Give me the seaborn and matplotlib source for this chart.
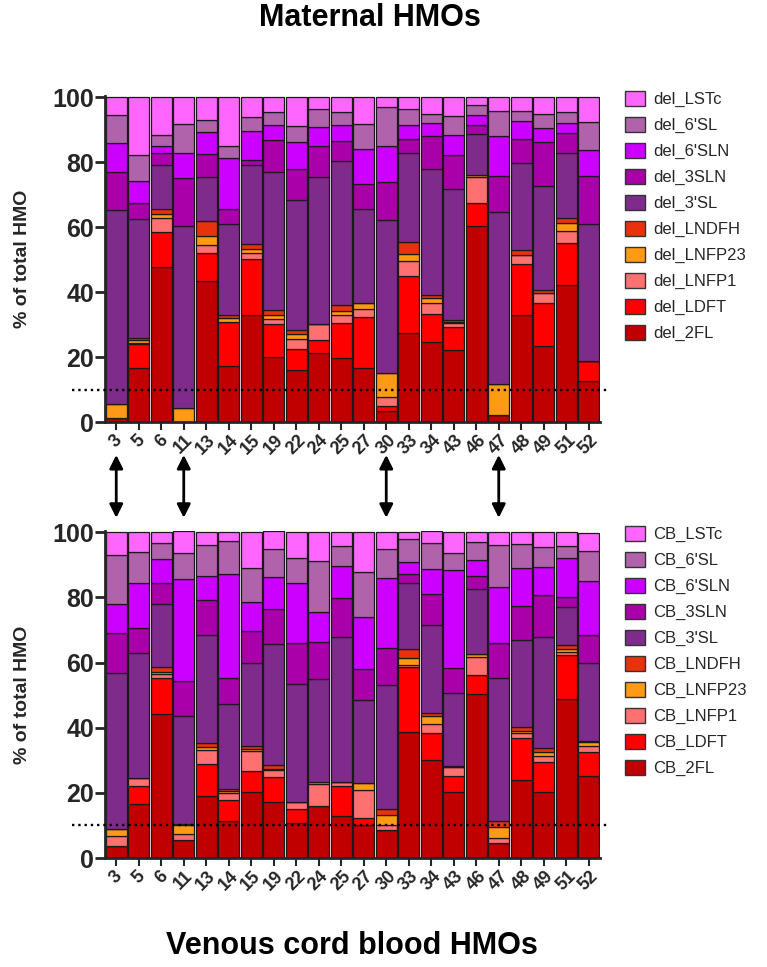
import numpy as np
import pandas as pd
import matplotlib
matplotlib.use('Agg')
import matplotlib.pyplot as plt
from matplotlib.patches import Patch
import seaborn as sns

# sample ids on the x axis
samples = ['3', '5', '6', '11', '13', '14', '15', '19', '22', '24', '25',
           '27', '30', '33', '34', '43', '46', '47', '48', '49', '51', '52']

# stacking order, bottom -> top
components = ['2FL', 'LDFT', 'LNFP1', 'LNFP23', 'LNDFH',
              "3'SL", '3SLN', "6'SLN", "6'SL", 'LSTc']

colors = {
    '2FL': '#C00000',
    'LDFT': '#FF0000',
    'LNFP1': '#FF7070',
    'LNFP23': '#FF9A14',
    'LNDFH': '#E8320C',
    "3'SL": '#7E2B8C',
    '3SLN': '#A900AA',
    "6'SLN": '#CC00FF',
    "6'SL": '#B063AB',
    'LSTc': '#FF66FF',
}

# Maternal (del) values, % of total HMO
del_2FL = [1.3, 16.7, 47.8, 0, 43.4, 17.2, 32.9, 20.0, 15.9, 21.1, 19.6,
           16.7, 3.4, 27.3, 24.6, 22.1, 60.5, 2.1, 33.1, 23.4, 42.2, 12.6]
del_LDFT = [0, 7.2, 10.8, 0, 8.7, 13.7, 17.4, 10.1, 6.5, 4.3, 10.8,
            15.7, 1.5, 17.8, 8.8, 7.2, 7.0, 0, 15.7, 13.3, 13.0, 6.2]
del_LNFP1 = [0, 0.5, 4.3, 0, 2.4, 0, 1.8, 1.5, 3.3, 4.9, 2.4,
             2.5, 2.8, 4.4, 3.3, 1.1, 8.0, 0, 2.5, 2.9, 3.6, 0]
del_LNFP23 = [4.3, 0.8, 1.3, 4.2, 2.7, 1.2, 1.3, 1.2, 1.3, 0, 1.4,
              1.6, 7.5, 2.1, 1.4, 0.3, 0.7, 9.7, 0, 0, 2.5, 0]
del_LNDFH = [0, 0.8, 1.4, 0, 4.6, 0.8, 1.3, 1.7, 1.2, 0, 1.7,
             0, 0, 3.8, 1.0, 0.7, 0, 0, 1.8, 1.2, 1.6, 0]
del_3SL = [59.8, 36.6, 13.7, 56.3, 13.7, 28.2, 24.6, 42.4, 40.3, 45.2, 44.6,
           29.2, 46.9, 27.3, 38.9, 40.5, 12.6, 52.9, 26.7, 32.0, 20.0, 42.3]
del_3SLN = [11.6, 4.7, 3.6, 14.7, 6.9, 4.6, 1.5, 9.8, 9.4, 9.4, 6.0,
            7.6, 11.8, 4.6, 10.2, 10.2, 2.6, 11.2, 7.5, 13.4, 6.1, 14.8]
del_6SLN = [9.0, 6.9, 2.2, 7.7, 6.8, 15.6, 8.7, 4.7, 8.4, 5.9, 4.9,
            10.8, 11.0, 4.3, 3.9, 6.2, 3.3, 12.3, 5.3, 4.4, 3.1, 8.0]
del_6SL = [8.7, 7.9, 3.4, 9.0, 3.9, 3.8, 4.3, 4.1, 5.0, 5.7, 4.0,
           7.7, 12.0, 4.8, 2.9, 5.8, 2.8, 7.7, 3.1, 4.4, 3.3, 8.5]
del_LSTc = [5.3, 17.9, 11.5, 8.1, 6.9, 14.9, 6.2, 4.5, 8.7, 3.5, 4.6,
            8.2, 3.1, 3.6, 5.0, 5.9, 2.5, 4.1, 4.3, 5.0, 4.6, 7.6]

# Venous cord blood (CB) values
cb_2FL = [3.7, 16.6, 44.2, 5.4, 19.0, 11.5, 20.2, 17.1, 10.7, 16.1, 12.8,
          10.0, 8.5, 38.6, 30.2, 20.4, 50.3, 4.7, 23.8, 20.4, 48.8, 25.1]
cb_LDFT = [0, 5.6, 11.2, 0, 9.9, 6.4, 6.4, 7.7, 4.4, 0, 9.2,
           2.3, 0, 19.9, 8.2, 4.7, 5.8, 0, 13.0, 9.0, 13.4, 7.3]
cb_LNFP1 = [3.2, 2.3, 1.0, 2.0, 4.3, 2.1, 6.1, 2.2, 2.0, 6.7, 1.3,
            8.6, 1.5, 0.8, 2.7, 2.8, 5.6, 1.5, 1.6, 2.0, 1.1, 2.1]
cb_LNFP23 = [2.1, 0, 0.8, 2.8, 1.0, 0.5, 0.8, 0.3, 0, 0.5, 0,
             2.2, 3.3, 2.0, 2.4, 0, 0.9, 3.3, 0.5, 1.0, 0.8, 1.0]
cb_LNDFH = [0, 0, 1.5, 0.3, 1.0, 0.7, 0.8, 1.2, 0, 0, 0,
            0, 1.8, 2.8, 0.9, 0.5, 0, 1.8, 1.2, 1.3, 1.2, 0.5]
cb_3SL = [47.7, 38.4, 19.2, 33.0, 33.3, 26.2, 25.7, 37.1, 36.3, 31.8, 44.7,
          25.4, 38.0, 20.4, 27.0, 22.2, 19.9, 43.9, 26.7, 34.2, 11.7, 24.0]
cb_3SLN = [12.5, 7.6, 6.4, 10.7, 10.6, 7.8, 9.7, 11.0, 12.5, 11.2, 11.9,
           9.5, 11.5, 2.7, 9.7, 7.7, 4.1, 10.9, 10.7, 12.8, 3.1, 8.5]
cb_6SLN = [8.7, 13.8, 7.4, 31.4, 7.4, 32.1, 8.9, 9.7, 18.6, 9.3, 9.9,
           16.1, 21.5, 3.7, 7.7, 30.1, 4.8, 17.1, 11.6, 8.7, 12.0, 16.5]
cb_6SL = [15.0, 9.7, 4.9, 7.9, 9.7, 9.9, 10.3, 8.7, 7.6, 15.7, 6.1,
          13.8, 8.9, 6.9, 7.8, 5.3, 5.7, 12.8, 7.3, 6.1, 3.8, 9.3]
cb_LSTc = [7.1, 6.0, 3.5, 6.8, 3.8, 2.8, 11.1, 5.3, 7.9, 8.7, 4.1,
           12.1, 5.0, 2.2, 3.8, 6.3, 3.0, 4.0, 3.8, 4.5, 4.1, 5.5]

arrow_samples = ['3', '11', '30', '47']

del_data = dict(zip(components, [del_2FL, del_LDFT, del_LNFP1, del_LNFP23, del_LNDFH,
                                 del_3SL, del_3SLN, del_6SLN, del_6SL, del_LSTc]))
cb_data = dict(zip(components, [cb_2FL, cb_LDFT, cb_LNFP1, cb_LNFP23, cb_LNDFH,
                                cb_3SL, cb_3SLN, cb_6SLN, cb_6SL, cb_LSTc]))

sns.set_style('ticks')
plt.rcParams['font.family'] = ['Liberation Sans', 'DejaVu Sans']

W, H = 767, 967
fig = plt.figure(figsize=(W / 100, H / 100), dpi=100)
ax_top = fig.add_axes([105 / W, 1 - 422 / H, 495 / W, 326 / H])
ax_bot = fig.add_axes([105 / W, 1 - 858 / H, 495 / W, 327 / H])


def draw_panel(ax, data, prefix):
    bottom = np.zeros(len(samples))
    for comp in components:
        vals = np.array(data[comp], dtype=float)
        df = pd.DataFrame({'sample': samples, 'value': vals})
        sns.barplot(data=df, x='sample', y='value', order=samples,
                    color=colors[comp], saturation=1, width=0.93,
                    bottom=bottom, edgecolor='#1a1a1a', linewidth=0.9,
                    errorbar=None, ax=ax)
        bottom = bottom + vals

    ax.set_xlim(-0.5, len(samples) - 0.5)
    ax.set_ylim(0, 100.4)
    ax.set_yticks([0, 20, 40, 60, 80, 100])
    ax.set_yticklabels(['0', '20', '40', '60', '80', '100'],
                       fontsize=18, fontweight='bold')
    ax.set_xticks(range(len(samples)))
    ax.set_xticklabels(samples, rotation=45, ha='center',
                       fontsize=13, fontweight='bold')
    ax.tick_params(axis='y', length=7, width=2, pad=1)
    ax.tick_params(axis='x', length=6, width=1.5, pad=1)
    ax.set_xlabel('')
    ax.set_ylabel('% of total HMO', fontsize=14, fontweight='bold')
    ax.yaxis.set_label_coords(-0.15, 0.5)
    for side in ['top', 'right']:
        ax.spines[side].set_visible(False)
    for side in ['left', 'bottom']:
        ax.spines[side].set_linewidth(2)

    # 10 % reference line
    ax.axhline(10, xmin=-0.067, xmax=1.015, color='black', ls=':',
               lw=1.7, clip_on=False, zorder=5)

    handles = [Patch(facecolor=colors[c], edgecolor='#333333', linewidth=1)
               for c in reversed(components)]
    labels = [f'{prefix}_{c}' for c in reversed(components)]
    ax.legend(handles, labels, loc='upper left', bbox_to_anchor=(1.05, 1.015),
              frameon=False, fontsize=12, handlelength=1.2, handleheight=1.0,
              handletextpad=0.5, labelspacing=0.58, borderaxespad=0,
              borderpad=0)


draw_panel(ax_top, del_data, 'del')
draw_panel(ax_bot, cb_data, 'CB')

# arrows linking the two panels
for s in arrow_samples:
    i = samples.index(s)
    ax_top.annotate('', xy=(i, -0.101), xycoords=('data', 'axes fraction'),
                    xytext=(i, -0.294), textcoords=('data', 'axes fraction'),
                    arrowprops=dict(arrowstyle='<|-|>', color='black', lw=2,
                                    mutation_scale=20, shrinkA=0, shrinkB=0))

fig.text(370 / W, 1 - 18 / H, 'Maternal HMOs', ha='center', va='center',
         fontsize=22, fontweight='bold', color='black')
fig.text(352 / W, 1 - 946 / H, 'Venous cord blood HMOs', ha='center',
         va='center', fontsize=22, fontweight='bold', color='black')

fig.savefig('out.png', dpi=100)
